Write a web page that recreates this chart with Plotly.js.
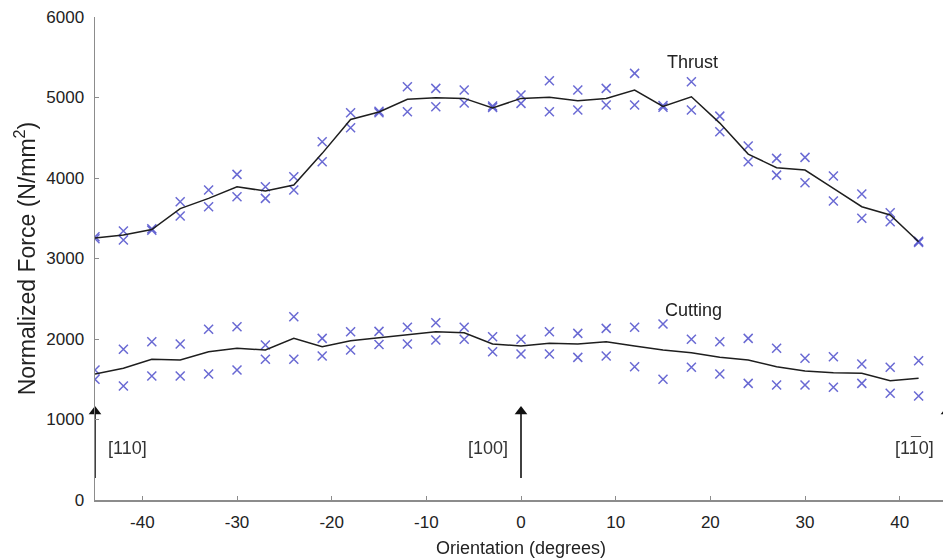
<!DOCTYPE html>
<html>
<head>
<meta charset="utf-8">
<script src="https://cdn.plot.ly/plotly-3.0.1.min.js"></script>
<style>
html,body{margin:0;padding:0;background:#fff;overflow:hidden;width:943px;height:558px;}
#chart{width:947px;height:558px;}
</style>
</head>
<body>
<div id="chart"></div>
<script>
// Orientation angles (degrees)
var angles = [-45,-42,-39,-36,-33,-30,-27,-24,-21,-18,-15,-12,-9,-6,-3,0,3,6,9,12,15,18,21,24,27,30,33,36,39,42];

// Thrust force, two measurement runs (N/mm^2)
var thrustRun1 = [3270,3341,3370,3705,3850,4045,3891,4016,4450,4810,4830,5133,5113,5092,4895,5030,5208,5092,5113,5300,4900,5195,4769,4397,4244,4256,4024,3801,3568,3215];
var thrustRun2 = [3245,3229,3350,3527,3643,3767,3747,3850,4202,4624,4810,4823,4885,4931,4875,4927,4823,4844,4906,4906,4880,4844,4574,4202,4036,3941,3714,3499,3456,3200];
// Thrust averaged curve
var thrustMean = [3255,3291,3360,3620,3747,3891,3838,3912,4306,4728,4820,4977,4997,4989,4869,4989,5002,4959,4989,5092,4890,5009,4682,4297,4127,4099,3871,3643,3540,3208];

// Cutting force, two measurement runs (N/mm^2)
var cuttingRun1 = [1615,1872,1966,1938,2120,2152,1925,2277,2008,2090,2095,2145,2202,2145,2028,1996,2090,2070,2132,2145,2186,1996,1966,2008,1884,1760,1780,1689,1648,1730];
var cuttingRun2 = [1499,1416,1540,1540,1565,1615,1748,1748,1788,1863,1931,1938,1987,1996,1842,1813,1813,1772,1788,1656,1499,1648,1565,1449,1428,1428,1400,1449,1325,1292];
// Cutting averaged curve
var cuttingMean = [1565,1636,1747,1739,1842,1884,1863,2008,1904,1978,2016,2049,2090,2078,1938,1913,1946,1938,1966,1913,1863,1829,1772,1739,1656,1602,1581,1574,1482,1512];

// Crystal directions marked by arrows ([1 1-bar 0] drawn with a bar over the middle 1)
var dirAngles = [-45, 0, 45];
var dirLabels = ['[110]', '[100]', '[110]'];
var arrowBase = 273, arrowTip = 1100, dirLabelY = 640;

// Tick labels
var xTickVals = [-40,-30,-20,-10,0,10,20,30,40];
var xTickText = ['-40','-30','-20','-10','0','10','20','30','40'];
var yTickVals = [0,1000,2000,3000,4000,5000,6000];
var yTickText = ['0','1000','2000','3000','4000','5000','6000'];

// Curve labels
var curveNames = ['Thrust', 'Cutting'];
var curveLabelX = [15.2, 15.0];
var curveLabelY = [5444, 2360];

var FONT = 'Liberation Sans, Arial, Helvetica, sans-serif';
var markerStyle = {symbol: 'x-thin-open', size: 9, color: '#5050cc', line: {color: '#5050cc', width: 1.5}};
var lineStyle = {color: '#1e1e1e', width: 1.5};

var traces = [
  {x: angles, y: thrustRun1, mode: 'markers', type: 'scatter', marker: markerStyle, opacity: 0.85},
  {x: angles, y: thrustRun2, mode: 'markers', type: 'scatter', marker: markerStyle, opacity: 0.85},
  {x: angles, y: cuttingRun1, mode: 'markers', type: 'scatter', marker: markerStyle, opacity: 0.85},
  {x: angles, y: cuttingRun2, mode: 'markers', type: 'scatter', marker: markerStyle, opacity: 0.85},
  {x: angles, y: thrustMean, mode: 'lines', type: 'scatter', line: lineStyle},
  {x: angles, y: cuttingMean, mode: 'lines', type: 'scatter', line: lineStyle}
];

// direction arrows: shaft + triangular head
dirAngles.forEach(function (a) {
  traces.push({x: [a, a], y: [arrowBase, arrowTip], mode: 'lines', type: 'scatter',
    line: {color: '#111', width: 1.6}, cliponaxis: false});
  traces.push({x: [a], y: [arrowTip], mode: 'markers', type: 'scatter', cliponaxis: false,
    marker: {symbol: 'triangle-up', size: 11, color: '#111', line: {width: 0}}});
});

var LABEL_SIZE = 18;
var annotations = [];
dirAngles.forEach(function (a, i) {
  var isLeft = (i === 0);
  annotations.push({
    x: isLeft ? a + 1.2 : a - 1.2, y: dirLabelY, xref: 'x', yref: 'y',
    text: dirLabels[i], showarrow: false, xanchor: isLeft ? 'left' : 'right', yanchor: 'middle',
    font: {family: FONT, size: LABEL_SIZE, color: '#333'}
  });
});
// overbar on the middle "1" of the third label: it sits left of "0]" (0.834 em)
annotations.push({
  x: dirAngles[2] - 1.2, y: dirLabelY, xref: 'x', yref: 'y', text: '\u00AF', showarrow: false,
  xanchor: 'center', yanchor: 'middle', xshift: -Math.round(LABEL_SIZE * 1.112), yshift: 4,
  font: {family: FONT, size: LABEL_SIZE, color: '#333'}
});
curveNames.forEach(function (n, i) {
  annotations.push({
    x: curveLabelX[i], y: curveLabelY[i], xref: 'x', yref: 'y', text: n, showarrow: false,
    xanchor: 'left', yanchor: 'middle', font: {family: FONT, size: 18, color: '#222'}
  });
});

var axisCommon = {
  showgrid: false, zeroline: false, showline: true, linecolor: '#8c8c8c', linewidth: 1.5,
  ticks: 'inside', ticklen: 4, tickwidth: 1, tickcolor: '#8c8c8c',
  tickfont: {family: FONT, size: 17, color: '#222'}
};

var layout = {
  width: 947, height: 558,
  margin: {l: 95, r: 0, t: 17, b: 58},
  paper_bgcolor: '#fff', plot_bgcolor: '#fff',
  showlegend: false,
  font: {family: FONT, color: '#222'},
  xaxis: Object.assign({}, axisCommon, {
    range: [-45, 45], tickmode: 'array', tickvals: xTickVals, ticktext: xTickText, ticklabelstandoff: 6,
    title: {text: 'Orientation (degrees)', font: {family: FONT, size: 18, color: '#222'}, standoff: 10}
  }),
  yaxis: Object.assign({}, axisCommon, {
    range: [0, 6000], tickmode: 'array', tickvals: yTickVals, ticktext: yTickText, ticklabelstandoff: 6,
    title: {text: 'Normalized Force (N/mm<sup>2</sup>)', font: {family: FONT, size: 23, color: '#222'}, standoff: 4}
  }),
  annotations: annotations
};

Plotly.newPlot('chart', traces, layout, {staticPlot: true, displayModeBar: false});
</script>
</body>
</html>
